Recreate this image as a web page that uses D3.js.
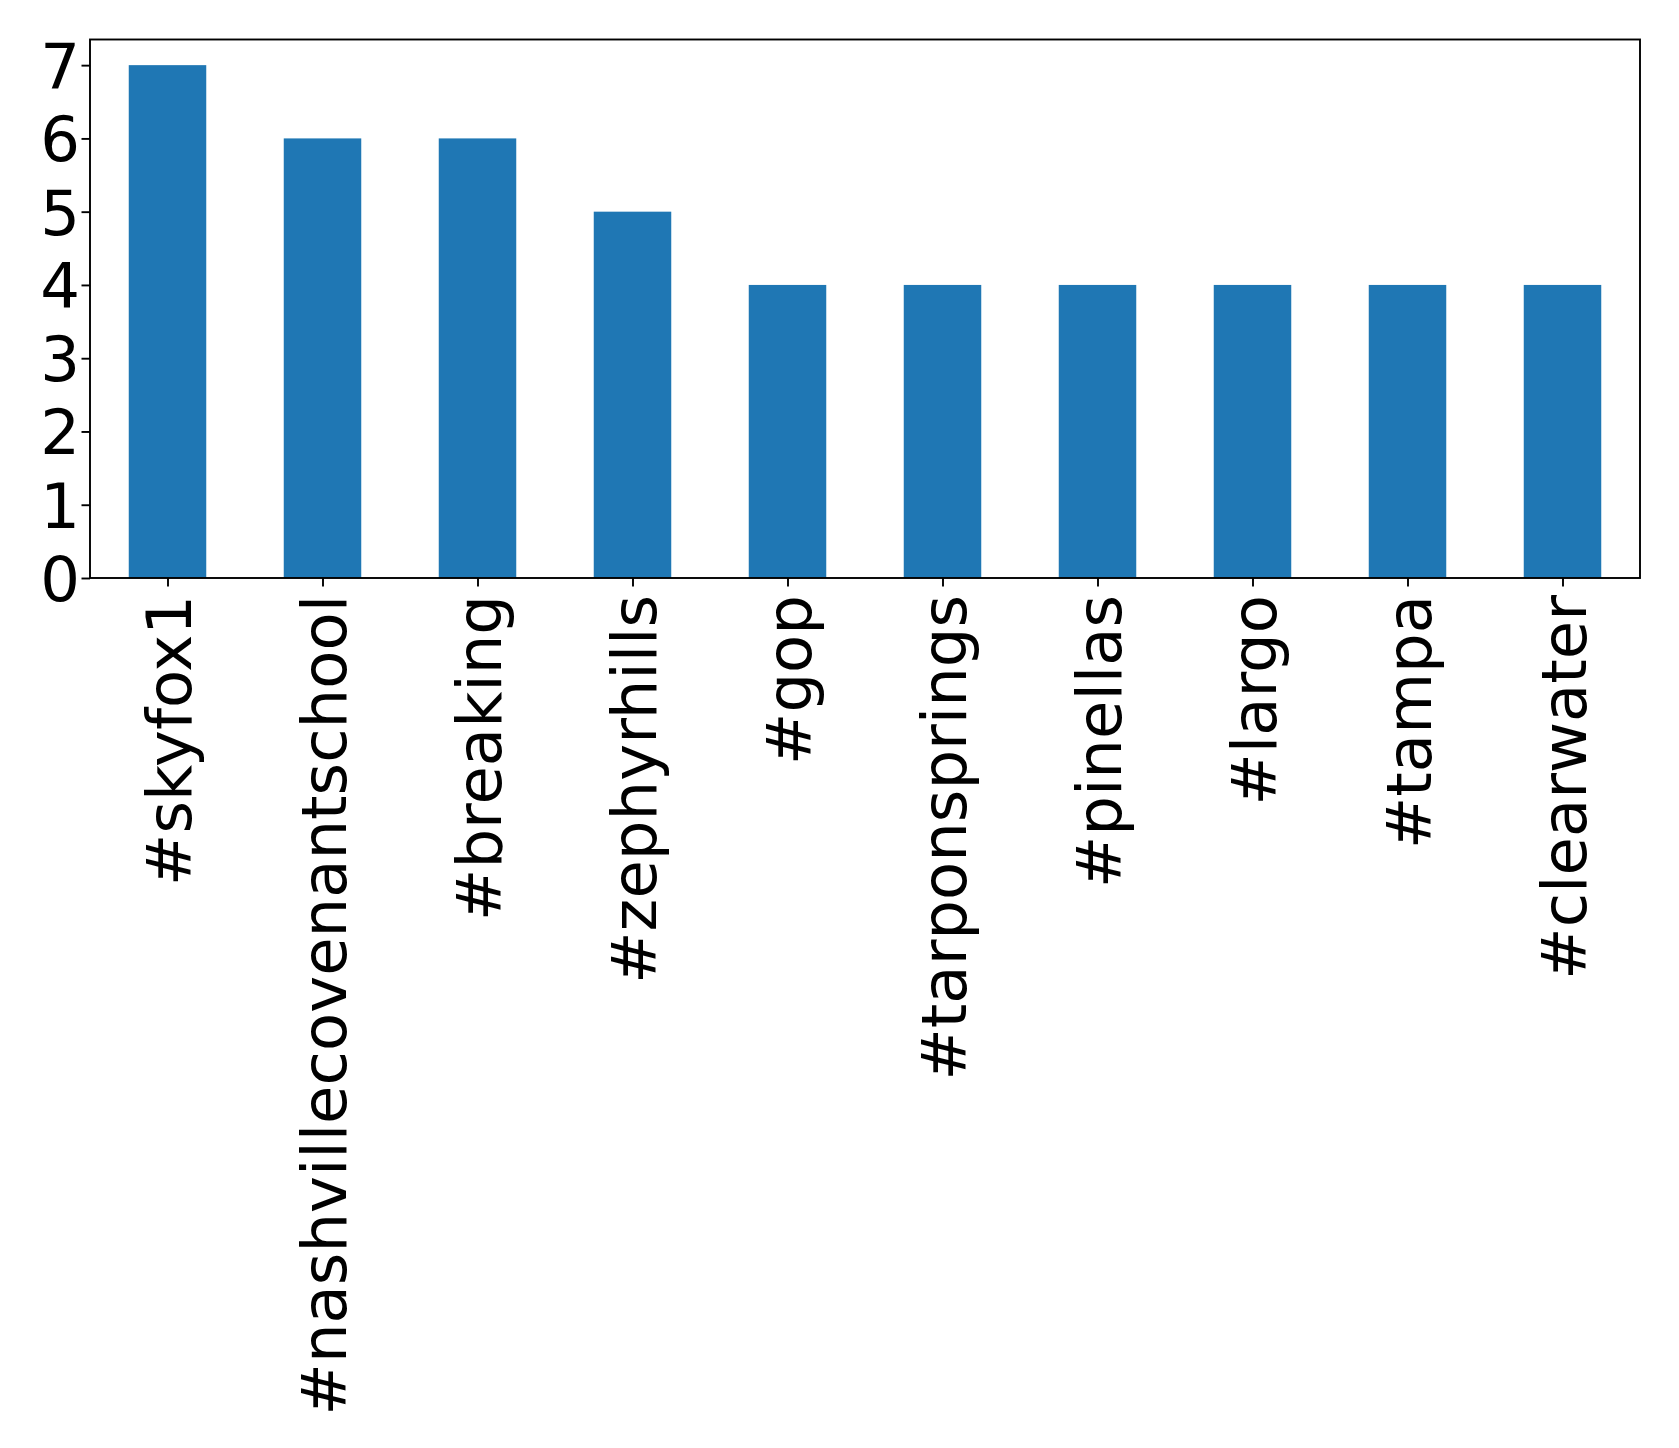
<!DOCTYPE html>
<html><head><meta charset="utf-8">
<script src="https://cdn.jsdelivr.net/npm/d3@7"></script>
<style>body{margin:0;background:#fff}svg{display:block}</style>
</head><body>
<script>
const categories = ["#skyfox1","#nashvillecovenantschool","#breaking","#zephyrhills","#gop","#tarponsprings","#pinellas","#largo","#tampa","#clearwater"];
const values = [7,6,6,5,4,4,4,4,4,4];
const yTicks = [0,1,2,3,4,5,6,7];

(function(){
const W = 1679, H = 1448;
const mLeft = 90, mRight = 1640, mTop = 39.5, mBottom = 578;
const svg = d3.select("body").append("svg").attr("width", W).attr("height", H);

const x = d3.scaleLinear().domain([-0.5, categories.length - 0.5]).range([mLeft, mRight]);
const y = d3.scaleLinear().domain([0, 7.35]).range([mBottom, mTop]);
const bw = x(0.5) - x(0);

svg.selectAll("rect.bar").data(values).join("rect")
  .attr("class","bar")
  .attr("x", (d,i) => x(i) - bw/2)
  .attr("width", bw)
  .attr("y", d => y(d))
  .attr("height", d => y(0) - y(d))
  .attr("fill", "#1f77b4");

const font = "DejaVu Sans, sans-serif";
const yAxis = svg.append("g").attr("transform", `translate(${mLeft},0)`)
  .call(d3.axisLeft(y).tickValues(yTicks).tickFormat(d3.format("d")).tickSize(8.5).tickPadding(1.5));
const xAxis = svg.append("g").attr("transform", `translate(0,${mBottom})`)
  .call(d3.axisBottom(x).tickValues(d3.range(categories.length)).tickFormat(i => categories[i]).tickSize(8.5).tickPadding(8.5));
[yAxis, xAxis].forEach(g => {
  g.select(".domain").remove();
  g.selectAll("line").attr("stroke","#000").attr("stroke-width",1.9);
  g.selectAll("text").attr("font-family", font).attr("font-size", 62.5).attr("fill","#000");
});
yAxis.selectAll("text").attr("dy","0.36em");
xAxis.selectAll("text")
  .attr("text-anchor","end")
  .attr("dy","0.36em")
  .attr("transform", `translate(0,${8.5+8.5}) rotate(-90)`)
  .attr("x", 0).attr("y", 0);

svg.append("rect").attr("x", mLeft).attr("y", mTop).attr("width", mRight-mLeft).attr("height", mBottom-mTop)
  .attr("fill","none").attr("stroke","#000").attr("stroke-width",1.9);
})();
</script>
</body></html>
